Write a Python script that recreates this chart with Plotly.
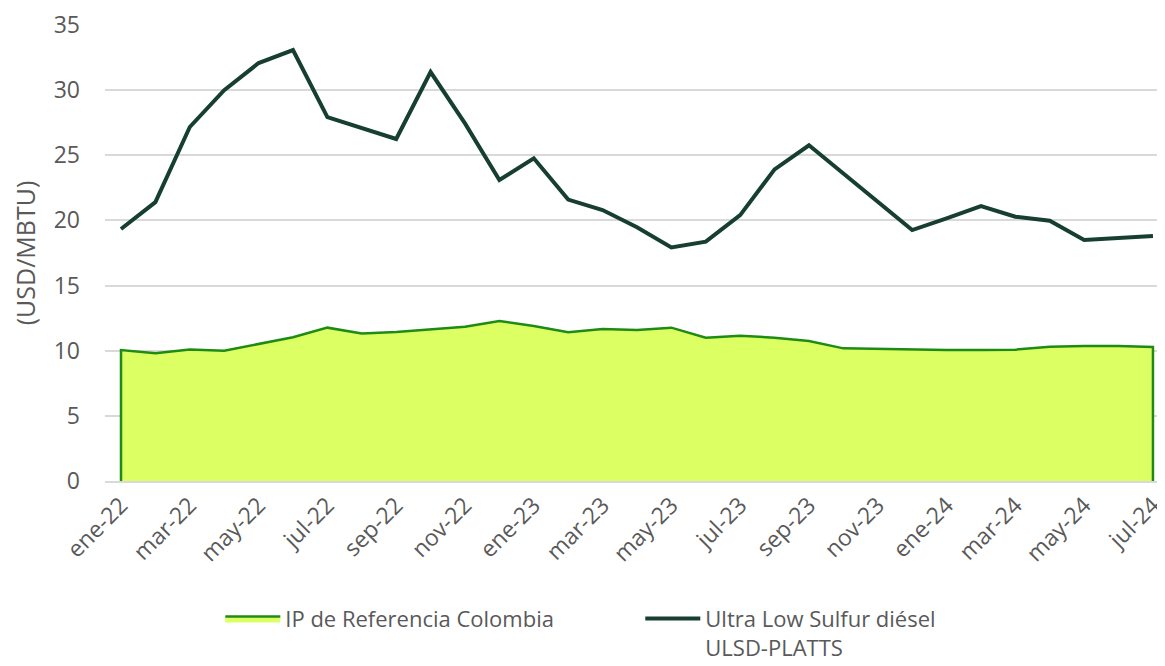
import plotly.graph_objects as go

# ── Datos ────────────────────────────────────────────────────────────────────

MESES = [
    "ene-22", "feb-22", "mar-22", "abr-22", "may-22", "jun-22", "jul-22",
    "ago-22", "sep-22", "oct-22", "nov-22", "dic-22",
    "ene-23", "feb-23", "mar-23", "abr-23", "may-23", "jun-23", "jul-23",
    "ago-23", "sep-23", "oct-23", "nov-23", "dic-23",
    "ene-24", "feb-24", "mar-24", "abr-24", "may-24", "jun-24", "jul-24",
]

IP_COLOMBIA = [
    10.05, 9.8, 10.1, 10.0, 10.5, 11.03, 11.77, 11.33, 11.43, 11.64, 11.84, 12.28,
    11.9, 11.41, 11.67, 11.59, 11.77, 11.0, 11.15, 11.0, 10.74, 10.18, 10.13, 10.1,
    10.05, 10.05, 10.08, 10.3, 10.36, 10.36, 10.28,
]

ULSD_PLATTS = [
    19.34, 21.4, 27.17, 30.0, 32.08, 33.08, 27.93, 27.05, 26.25, 31.39, 27.45, 23.1,
    24.77, 21.6, 20.8, 19.47, 17.93, 18.37, 20.41, 23.92, 25.77, 23.6, 21.4, 19.26,
    20.16, 21.1, 20.28, 19.98, 18.5, 18.67, 18.8,
]

TICKS_X = MESES[::2]

# ── Gráfico ──────────────────────────────────────────────────────────────────

GRIS = "#595959"
FUENTE = "Open Sans"

fig = go.Figure()

# área cerrada hasta cero (con bordes verticales como en Excel)
fig.add_trace(go.Scatter(
    x=[MESES[0]] + MESES + [MESES[-1]],
    y=[0] + IP_COLOMBIA + [0],
    name="IP de Referencia Colombia",
    mode="lines",
    fill="toself",
    fillcolor="#dcff63",
    line=dict(color="#1e8c14", width=2.5),
))

fig.add_trace(go.Scatter(
    x=MESES,
    y=ULSD_PLATTS,
    name="Ultra Low Sulfur diésel<br>ULSD-PLATTS",
    mode="lines",
    line=dict(color="#173f30", width=4),
))

# la página tiene 8px de margen en el body: la figura se ajusta a eso
fig.update_layout(
    width=1157, height=658,
    paper_bgcolor="white",
    plot_bgcolor="white",
    font=dict(family=FUENTE, color=GRIS, size=23),
    margin=dict(l=97, r=0, t=17, b=185, autoexpand=False),
    xaxis=dict(
        type="category",
        categoryorder="array",
        categoryarray=MESES,
        range=[-0.465, 30.35],
        tickmode="array",
        tickvals=TICKS_X,
        ticktext=TICKS_X,
        tickangle=-45,
        showgrid=False,
        showline=True,
        linecolor="#d9d9d9",
        linewidth=1.5,
        automargin=False,
        tickfont=dict(size=23, color=GRIS),
    ),
    yaxis=dict(
        range=[0, 35],
        dtick=5,
        showgrid=True,
        gridcolor="#d9d9d9",
        gridwidth=1.5,
        zeroline=False,
        automargin=False,
        tickfont=dict(size=23, color=GRIS),
        ticklabelstandoff=24,
        title=dict(text="(USD/MBTU)", font=dict(size=25, color=GRIS), standoff=19),
    ),
    legend=dict(
        orientation="h",
        x=0.505, xanchor="center",
        y=-0.256, yanchor="top",
        valign="top",
        font=dict(size=22, color=GRIS),
        entrywidth=350,
        entrywidthmode="pixels",
        itemwidth=55,
    ),
    showlegend=True,
)

fig.write_html("out.html")
